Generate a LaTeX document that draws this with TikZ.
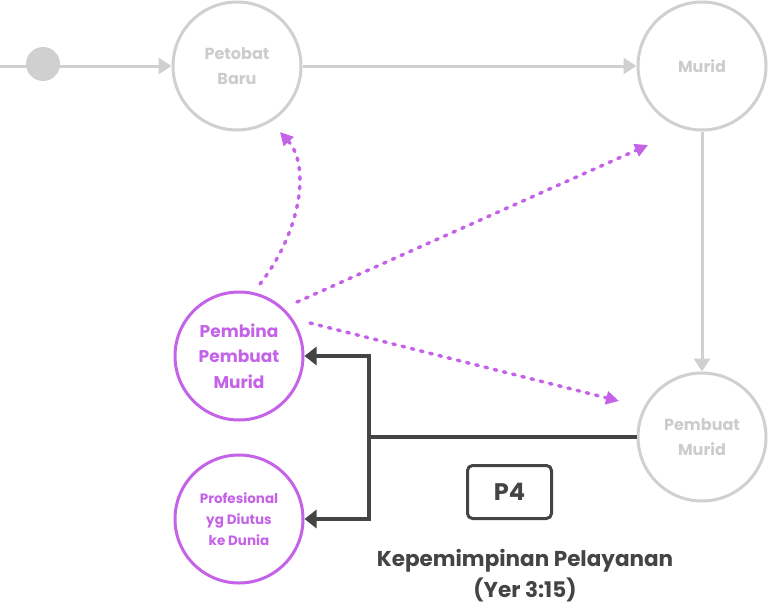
\documentclass[tikz,border=0pt]{standalone}
\usepackage{fontspec}
\setmainfont{Poppins}
\usetikzlibrary{arrows.meta}
\definecolor{lgray}{HTML}{D0D0D0}
\definecolor{ltext}{HTML}{CCCCCC}
\definecolor{purp}{HTML}{C462E8}
\definecolor{dark}{HTML}{444444}
\begin{document}
\begin{tikzpicture}[x=1pt,y=-1pt,
  gcirc/.style={circle, draw=lgray, line width=3pt, minimum size=128pt, inner sep=0pt,
    text=ltext, font=\bfseries\fontsize{16}{25}\selectfont, align=center},
  pcirc/.style={circle, draw=purp, line width=3pt, minimum size=128pt, inner sep=0pt,
    text=purp, align=center},
  garrow/.style={draw=lgray, line width=3pt, -{Triangle[length=13pt,width=16pt]}},
  dline/.style={draw=dark, line width=4pt},
  darrow/.style={dline, -{Triangle[length=12pt,width=18pt]}},
  pdot/.style={draw=purp, line width=3.5pt, line cap=round, dash pattern=on 2.5pt off 7pt,
    -{Triangle[length=13pt,width=13pt]}}]
\useasboundingbox (0,0) rectangle (768,608);

% nodes
\coordinate (s0) at (0,66);
\node[gcirc] (pb) at (237,66) {Petobat\\Baru};
\node[gcirc] (mu) at (702,66) {Murid};
\node[gcirc] (pm) at (702,437) {Pembuat\\Murid};
\node[pcirc, font=\bfseries\fontsize{17}{25.5}\selectfont] (pbm) at (239,356) {Pembina\\Pembuat\\Murid};
\node[pcirc, font=\bfseries\fontsize{13.5}{21}\selectfont] (pr) at (239,519) {Profesional\\yg Diutus\\ke Dunia};

% gray flow
\draw[garrow] (s0) -- (pb.west);
\node[circle, fill=lgray, minimum size=34pt, inner sep=0pt] (dot) at (43,64) {};
\draw[garrow] (pb.east) -- (mu.west);
\draw[garrow] (mu.south) -- (pm.north);

% dark connector
\coordinate (j) at (369,437);
\draw[dline] (pm.west) -- (j);
\draw[darrow] (j) |- (pbm.east);
\draw[darrow] (j) |- (pr.east);

% dotted purple arrows
\coordinate (a1s) at (260,284);
\coordinate (a1e) at (280,132);
\coordinate (a2s) at (297,302);
\coordinate (a2e) at (648,145);
\coordinate (a3s) at (310,323);
\coordinate (a3e) at (619,401);
\draw[pdot] (a1s) .. controls (302,230) and (310,165) .. (a1e);
\draw[pdot] (a2s) -- (a2e);
\draw[pdot] (a3s) -- (a3e);

% P4 box and caption
\node[draw=dark, line width=3pt, rounded corners=5pt, minimum width=84pt, minimum height=53pt,
  inner sep=0pt, text=dark, font=\bfseries\fontsize{24}{26}\selectfont] (p4) at (509.5,492) {P4};
\node[text=dark, font=\bfseries\fontsize{21.5}{31}\selectfont, align=center] (cap) at (525,576)
  {Kepemimpinan Pelayanan\\(Yer 3:15)};
\end{tikzpicture}
\end{document}
